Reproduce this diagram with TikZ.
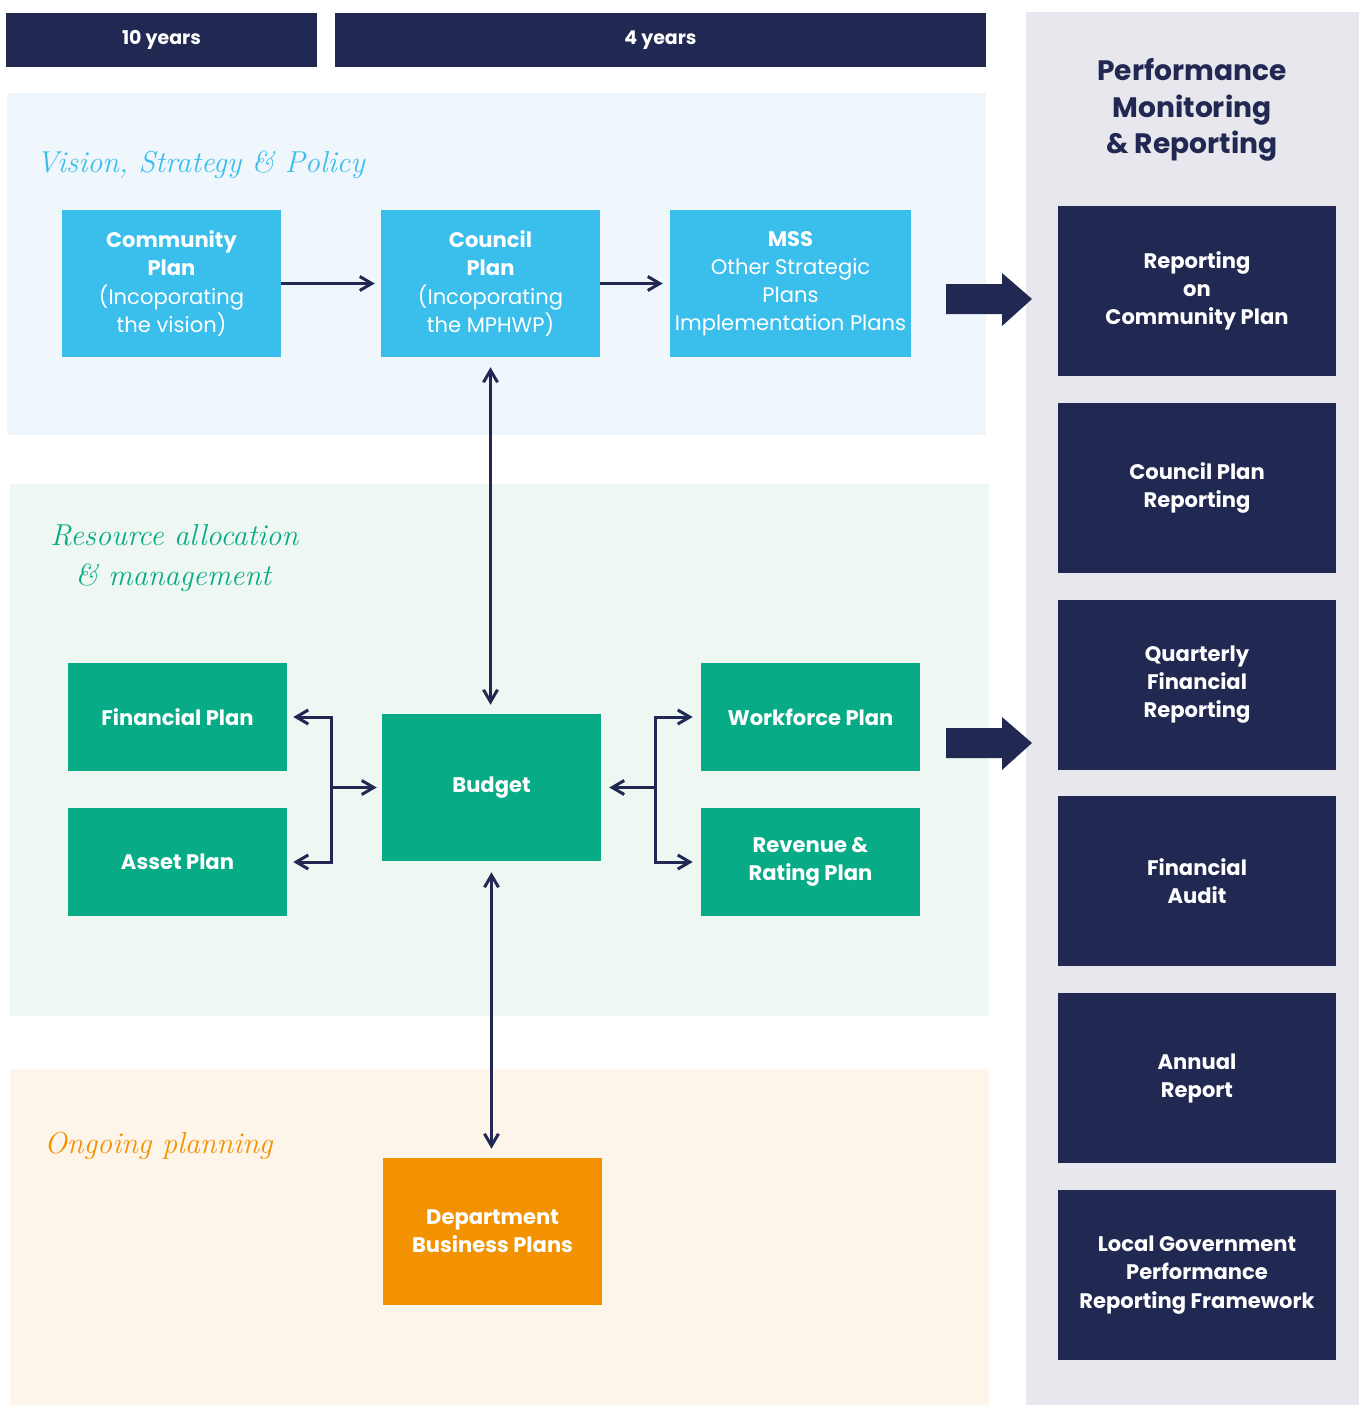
\documentclass[tikz,border=0pt]{standalone}
\usepackage{fontspec}
\newfontfamily\sansfam{Poppins}
\usetikzlibrary{arrows.meta}

\definecolor{navy}{HTML}{212952}
\definecolor{skyblue}{HTML}{3ABEEC}
\definecolor{leaf}{HTML}{07AC86}
\definecolor{amber}{HTML}{F39200}
\definecolor{bgblue}{HTML}{EFF7FD}
\definecolor{bggreen}{HTML}{EEF7F2}
\definecolor{bgorange}{HTML}{FDF4EA}
\definecolor{bggray}{HTML}{E8E7EE}

\begin{document}
\begin{tikzpicture}[x=0.25mm, y=-0.25mm,
  block/.style={fill=#1, text=white, minimum width=54.75mm, minimum height=36.75mm, inner sep=0pt, align=center, font=\sansfam\bfseries\fontsize{15}{20}\selectfont},
  report/.style={fill=navy, text=white, minimum width=69.5mm, minimum height=42.5mm, inner sep=0pt, align=center, node distance=49.2mm, font=\sansfam\bfseries\fontsize{15}{20}\selectfont},
  bar/.style={fill=navy, text=white, minimum height=13.5mm, inner sep=0pt, font=\sansfam\bfseries\fontsize{13.5}{16}\selectfont},
  hand/.style={text=#1, anchor=base west, inner sep=0pt, font=\itshape\fontsize{21.5}{26}\selectfont},
  link/.style={draw=navy, line width=0.75mm, -{Straight Barb[length=3mm, width=3.5mm]}},
  link2/.style={draw=navy, line width=0.75mm, {Straight Barb[length=3mm, width=3.5mm]}-{Straight Barb[length=3mm, width=3.5mm]}}]

  \useasboundingbox (0,0) rectangle (1359,1405);

  % Background panels
  \fill[bgblue] (7,93) rectangle (986,435);
  \fill[bggreen] (10,484) rectangle (989,1016);
  \fill[bgorange] (10,1069) rectangle (989,1405);
  \fill[bggray] (1026,12) rectangle (1359,1405);

  % Time bars
  \node[bar, minimum width=77.75mm] (ten) at (161.5,40) {10 years};
  \node[bar, minimum width=162.75mm] (four) at (660.5,40) {4 years};

  % Section titles
  \node[hand=skyblue] (vsp) at (36,172) {Vision, Strategy \& Policy};
  \node[hand=leaf] (ra) at (50,545) {Resource allocation};
  \node[hand=leaf] (rm) at (75,585) {\& management};
  \node[hand=amber] (og) at (44,1153) {Ongoing planning};

  % Vision row
  \node[block=skyblue] (comm) at (171.5,283.5) {Community\\Plan\\\textmd{(Incoporating}\\\textmd{the vision)}};
  \node[block=skyblue, right of=comm, node distance=79.75mm] (coun) {Council\\Plan\\\textmd{(Incoporating}\\\textmd{the MPHWP)}};
  \node[block=skyblue, right of=coun, node distance=75mm, minimum width=60.25mm] (mss) {MSS\\\textmd{Other Strategic}\\\textmd{Plans}\\\textmd{Implementation Plans}};

  % Resource row
  \node[block=leaf, minimum height=27mm] (fin) at (177.5,717) {Financial Plan};
  \node[block=leaf, minimum height=27mm, below of=fin, node distance=36.25mm] (ast) {Asset Plan};
  \node[block=leaf] (bud) at (491.5,787.5) {Budget};
  \node[block=leaf, minimum height=27mm] (wf) at (810.5,717) {Workforce Plan};
  \node[block=leaf, minimum height=27mm, below of=wf, node distance=36.25mm] (rev) {Revenue \&\\Rating Plan};

  % Ongoing row
  \node[block=amber] (dep) at (492.5,1231.5) {Department\\Business Plans};

  % Reporting column
  \node[text=navy, align=center, font=\sansfam\bfseries\fontsize{20}{26}\selectfont] (pmr) at (1192,110) {Performance\\Monitoring\\\& Reporting};
  \node[report] (r1) at (1197,291) {Reporting\\on\\Community Plan};
  \node[report, below of=r1] (r2) {Council Plan\\Reporting};
  \node[report, below of=r2] (r3) {Quarterly\\Financial\\Reporting};
  \node[report, below of=r3] (r4) {Financial\\Audit};
  \node[report, below of=r4] (r5) {Annual\\Report};
  \node[report, below of=r5] (r6) {Local Government\\Performance\\Reporting Framework};

  % Connectors
  \draw[link, shorten >=1.5mm] (comm.east) -- (coun.west);
  \draw[link, shorten >=1.75mm] (coun.east) -- (mss.west);
  \draw[link2, shorten <=2.5mm, shorten >=2.25mm] (coun.south) -- (coun.south |- bud.north);
  \draw[link2, shorten <=2.75mm, shorten >=2.25mm] (bud.south) -- (bud.south |- dep.north);

  \coordinate (lj) at (331,787.5);
  \coordinate (rj) at (655,787.5);
  \draw[link2, shorten <=1.5mm, shorten >=1.5mm] (fin.east) -| (lj) |- (ast.east);
  \draw[link, shorten >=1.25mm] (lj) -- (bud.west);
  \draw[link2, shorten <=2mm, shorten >=2mm] (wf.west) -| (rj) |- (rev.west);
  \draw[link, shorten >=2mm] (rj) -- (bud.east);

  % Big arrows to reporting
  \foreach \yy in {299,743}
    \fill[navy] (946,\yy-15) -- (1002,\yy-15) -- (1002,\yy-26) -- (1032,\yy) -- (1002,\yy+27) -- (1002,\yy+15) -- (946,\yy+15) -- cycle;

\end{tikzpicture}
\end{document}
